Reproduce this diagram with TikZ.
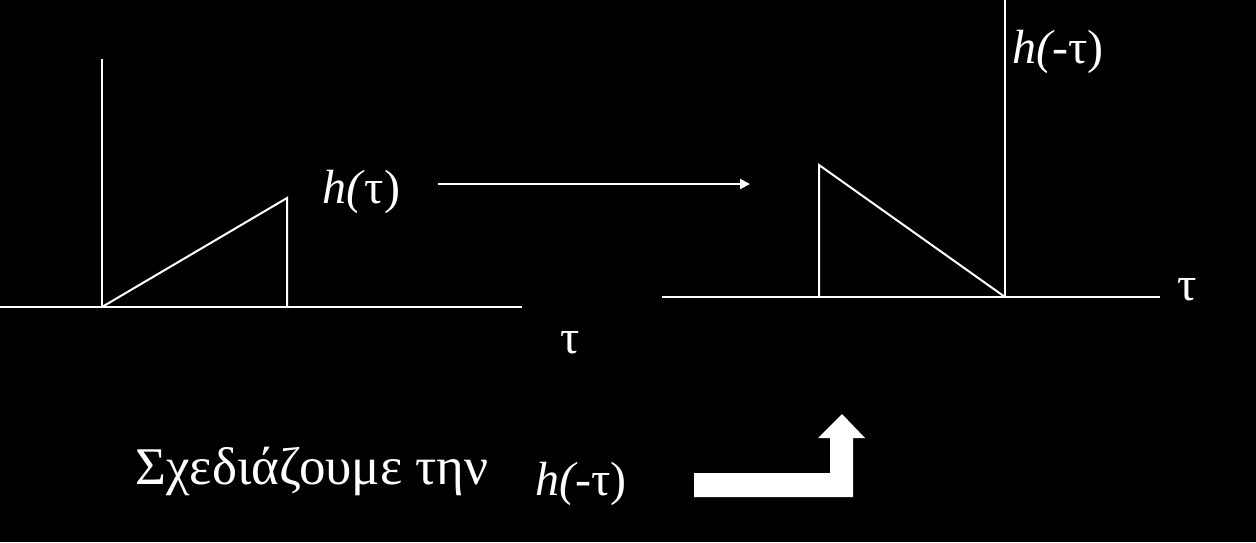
\documentclass[tikz,border=0pt]{standalone}
\usepackage{fontspec}
\setmainfont{Liberation Serif}
\usetikzlibrary{arrows.meta}

\begin{document}
\begin{tikzpicture}[
            x=0.5pt, y=-0.5pt,
            axis/.style={
                draw=white,
                line width=1pt
            },
            graph/.style={
                draw=white,
                line width=1pt
            },
            lbl/.style={
                text=white,
                inner sep=0pt,
                anchor=base west,
                font=\fontsize{24}{28}\selectfont
            },
            flow/.style={
                draw=white,
                line width=1pt,
                -{Triangle[length=5pt,width=5pt]}
            }
        ]
            \useasboundingbox[fill=black] (0,0) rectangle (1256,542);

            % --- Left plot: h(tau) ---
            \coordinate (L0) at (102,307);
            \coordinate (Ltop) at (102,59);
            \coordinate (Lleft) at (0,307);
            \coordinate (Lright) at (522,307);
            \coordinate (Lpeak) at (287,198);
            \coordinate (Lfoot) at (287,307);
            \draw[axis] (Lleft) -- (Lright);
            \draw[axis] (L0) -- (Ltop);
            \draw[graph] (L0) -- (Lpeak) -- (Lfoot);

            \node[lbl] (hl) at (322,203) {\textit{h(}τ)};
            \node[lbl] (tl) at (560,353) {τ};

            % --- Mirror arrow ---
            \coordinate (Astart) at (438,184);
            \coordinate (Aend) at (750,184);
            \draw[flow] (Astart) -- (Aend);

            % --- Right plot: h(-tau) ---
            \coordinate (R0) at (1005,297);
            \coordinate (Rtop) at (1005,0);
            \coordinate (Rleft) at (662,297);
            \coordinate (Rright) at (1160,297);
            \coordinate (Rpeak) at (819,165);
            \coordinate (Rfoot) at (819,297);
            \draw[axis] (Rleft) -- (Rright);
            \draw[axis] (R0) -- (Rtop);
            \draw[graph] (Rfoot) -- (Rpeak) -- (R0);

            \node[lbl] (hr) at (1012,63) {\textit{h(-}τ)};
            \node[lbl] (tr) at (1177,300) {τ};

            % --- Caption and bent arrow ---
            \node[lbl, font=\fontsize{26.5}{30}\selectfont] (cap) at (135,484) {Σχεδιάζουμε την};
            \node[lbl] (hc) at (535,495) {\textit{h(-}τ)};
            \fill[white] (694,473) -- (830,473) -- (830,438) -- (818,438)
                -- (842,414) -- (865,438) -- (853,438) -- (853,497)
                -- (694,497) -- cycle;
        \end{tikzpicture}
\end{document}
